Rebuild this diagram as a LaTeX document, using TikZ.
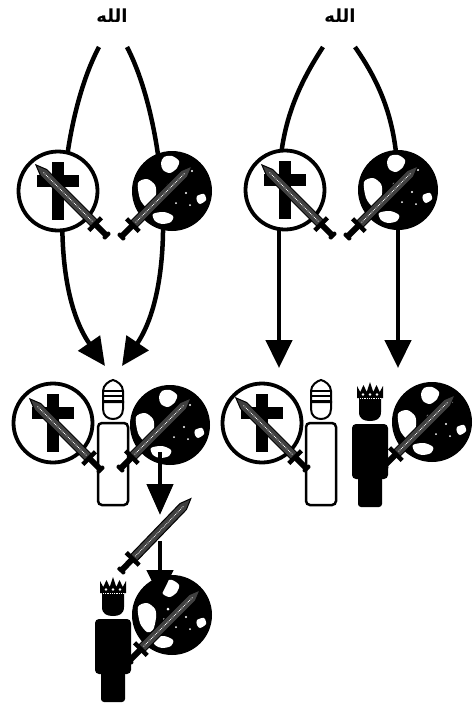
\documentclass[tikz,border=0pt]{standalone}
\usepackage{fontspec}
\usetikzlibrary{arrows.meta}
\newfontfamily\arabicfont[Script=Arabic]{DejaVu Sans}
\TeXXeTstate=1

\tikzset{
  conn/.style={line width=4.5pt, -{Triangle[length=28pt,width=26pt]}},
  dropconn/.style={line width=4.5pt, -{Triangle[length=31pt,width=26pt]}},
  link/.style={line width=4.5pt},
  ring/.style={circle, draw=black, line width=3.8pt, fill=white,
               minimum size=79pt, inner sep=0pt},
  globeball/.style={circle, fill=black, minimum size=80pt, inner sep=0pt},
  godname/.style={font=\arabicfont\bfseries\fontsize{18}{20}\selectfont,
                  inner sep=1pt},
  % black latin cross inside a ring
  latincross/.pic={
    \fill (-6,-29) rectangle (6,29);
    \fill (-21,-16) rectangle (21,-4);
  },
  % white land masses on a black globe
  continents/.pic={
    \fill[white] plot[smooth cycle] coordinates
      {(-34,-8) (-25,-12) (-17,-6) (-16,3) (-19,15) (-25,17) (-32,8)};
    \fill[white] plot[smooth cycle] coordinates
      {(-8,-34) (0,-35) (7,-30) (5,-23) (-2,-18) (-9,-21) (-11,-28)};
    \fill[white] plot[smooth cycle] coordinates
      {(-19,23) (-8,21) (1,25) (-1,31) (-10,33) (-17,30)};
    \fill[white] plot[smooth cycle] coordinates
      {(25,5) (32,3) (34,9) (28,13) (25,10)};
    \fill[white] (-4,-6) circle (1.5) (10,-12) circle (1.2) (14,2) circle (1.2)
                 (18,14) circle (1) (-8,4) circle (1) (20,-20) circle (1.2)
                 (4,12) circle (1);
  },
  % sword lying along +x, pommel at the origin
  sword/.pic={
    \fill[rounded corners=1pt] (0,-4.5) rectangle (4,4.5);
    \fill (3,-3) rectangle (17,3);
    \fill (16,-9) rectangle (20.5,9);
    \filldraw[fill=black!75, draw=black, line width=1pt]
      (20,-4.4) -- (91,-4.4) -- (102,0) -- (91,4.4) -- (20,4.4) -- cycle;
    \draw[white, line width=0.8pt, densely dotted] (22,0) -- (92,0);
  },
  % pope with mitre, origin at the top of the mitre
  pope/.pic={
    \draw[line width=2.5pt, fill=white, rounded corners=4pt] (-15,43) rectangle (15,125);
    \draw[line width=2pt, fill=white] (-10,21) -- (-10,29)
      .. controls (-10,36) and (-5,39) .. (0,39)
      .. controls (5,39) and (10,36) .. (10,29) -- (10,21);
    \draw[line width=2pt, fill=white] (-10,22) -- (-10,11)
      .. controls (-10,5) and (-4,1) .. (0,0)
      .. controls (4,1) and (10,5) .. (10,11) -- (10,22) -- cycle;
    \fill (-10,9.5) rectangle (10,12);
    \fill (-10,15) rectangle (10,17);
    \fill (-10,20) rectangle (10,23);
  },
  % crowned king, origin at the top of the crown
  king/.pic={
    \fill (-13,16) -- (-13,4) -- (-9.75,10) -- (-6.5,3) -- (-3.25,10) -- (0,0)
      -- (3.25,10) -- (6.5,3) -- (9.75,10) -- (13,4) -- (13,16) -- cycle;
    \fill (-11,14) -- (-11,30) .. controls (-11,37) and (-6,39) .. (0,39)
      .. controls (6,39) and (11,37) .. (11,30) -- (11,14) -- cycle;
    \fill[white] (-7,12.5) circle (1.3) (0,12.5) circle (1.3) (7,12.5) circle (1.3);
    \draw[white, line width=0.8pt, densely dotted] (-10,16.5) -- (10,16.5);
    \fill[rounded corners=4pt] (-18,42) rectangle (18,97);
    \fill[rounded corners=3pt] (-12,90) rectangle (12,125);
  },
}

\begin{document}
\begin{tikzpicture}[x=1pt, y=-1pt]
  \fill[white] (0,0) rectangle (472,705);
  \useasboundingbox (0,0) rectangle (472,705);

  % names at the top
  \node[godname] (godL) at (112,16) {\beginR الله\endR};
  \node[godname] (godR) at (340,16) {\beginR الله\endR};

  % ends of the connectors
  \coordinate (sLa) at (99,47);
  \coordinate (sLb) at (127,47);
  \coordinate (sRa) at (323,47);
  \coordinate (sRb) at (355,47);
  \coordinate (tLa) at (105,366);
  \coordinate (tLb) at (122,366);
  \coordinate (mRa) at (279,190);
  \coordinate (mRb) at (398,190);
  \coordinate (tRa) at (279,368);
  \coordinate (tRb) at (398,368);

  % connectors, drawn beneath the upper circles
  \draw[conn] (sLa) .. controls (60,120) and (45,280) .. (tLa);
  \draw[conn] (sLb) .. controls (165,120) and (180,280) .. (tLb);
  \draw[link] (sRa) .. controls (295,90) and (279,130) .. (mRa);
  \draw[conn] (mRa) -- (tRa);
  \draw[link] (sRb) .. controls (385,90) and (398,130) .. (mRb);
  \draw[conn] (mRb) -- (tRb);

  % upper row: cross and globe, each crossed by a sword
  \node[ring] (crossL) at (58,191) {};
  \pic at (crossL) {latincross};
  \pic[rotate=135] at (108,237) {sword};
  \node[globeball] (globeL) at (172,191) {};
  \pic at (globeL) {continents};
  \pic[rotate=45] at (120,238) {sword};

  \node[ring] (crossR) at (285,190) {};
  \pic at (crossR) {latincross};
  \pic[rotate=135] at (334,237) {sword};
  \node[globeball] (globeR) at (398,190) {};
  \pic at (globeR) {continents};
  \pic[rotate=45] at (346,238) {sword};

  % middle left: the pope holding both swords
  \node[ring] (crossML) at (53,423) {};
  \pic at (crossML) {latincross};
  \pic at (113,380) {pope};
  \node[globeball] (globeML) at (170,425) {};
  \pic at (globeML) {continents};
  \pic[rotate=135] at (102,471) {sword};
  \pic[rotate=45] at (119,470) {sword};

  % middle right: pope and king, one sword each
  \node[ring] (crossMR) at (262,423) {};
  \pic at (crossMR) {latincross};
  \pic at (321,380) {pope};
  \pic at (370,382) {king};
  \node[globeball] (globeMR) at (432,422) {};
  \pic at (globeMR) {continents};
  \pic[rotate=135] at (308,470) {sword};
  \pic[rotate=45] at (383,467) {sword};

  % the temporal sword handed down to the king
  \coordinate (dropA) at (160,452);
  \coordinate (dropAtip) at (160,515);
  \draw[dropconn] (dropA) -- (dropAtip);
  \pic[rotate=46] at (120,572) {sword};

  \pic at (113,577) {king};
  \node[globeball] (globeB) at (172,615) {};
  \pic at (globeB) {continents};
  \coordinate (dropB) at (160,541);
  \coordinate (dropBtip) at (160,598);
  \draw[conn] (dropB) -- (dropBtip);
  \pic[rotate=45] at (128,662) {sword};
\end{tikzpicture}
\end{document}
